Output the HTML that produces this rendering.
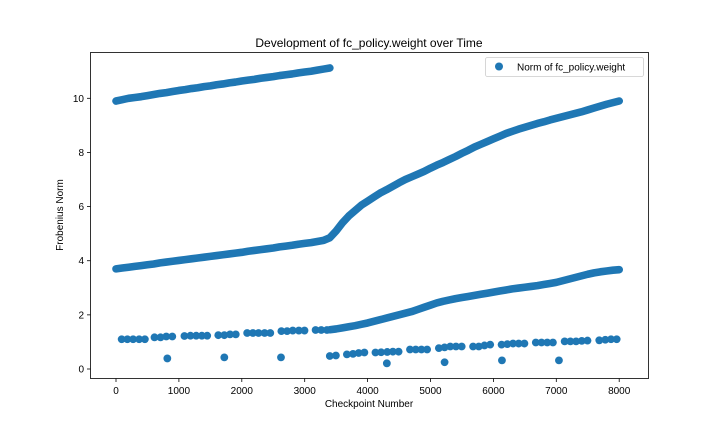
<!DOCTYPE html>
<html><head><meta charset="utf-8"><style>
body{margin:0;background:#fff;}
svg text{font-family:"Liberation Sans","DejaVu Sans",sans-serif;fill:#000;}
</style></head><body>
<svg id="chart" width="720" height="432" xmlns="http://www.w3.org/2000/svg">
<rect width="720" height="432" fill="#fff"/>
<text x="369" y="47" font-size="12" text-anchor="middle">Development of fc_policy.weight over Time</text>
<text x="369" y="407" font-size="10" text-anchor="middle">Checkpoint Number</text>
<text x="0" y="0" font-size="10" text-anchor="middle" transform="translate(63,215) rotate(-90)">Frobenius Norm</text>
<g id="ticks"></g>
<g id="marks"></g>
<rect x="90.5" y="52.5" width="558" height="326" fill="none" stroke="#000" stroke-width="0.8"/>
<g>
<rect x="485.5" y="57.5" width="158" height="19" rx="2" fill="#fff" stroke="#ccc" stroke-width="0.8"/>
<circle cx="499" cy="66.5" r="4" fill="#1f77b4"/>
<text x="517" y="70.5" font-size="10">Norm of fc_policy.weight</text>
</g>
</svg>
<script>
const xTicks=[0,1000,2000,3000,4000,5000,6000,7000,8000];
const yTicks=[0,2,4,6,8,10];
const topVals=[9.9,9.95,10.0,10.03,10.06,10.1,10.14,10.18,10.21,10.25,10.29,10.32,10.36,10.39,10.43,10.46,10.5,10.53,10.57,10.6,10.64,10.67,10.7,10.74,10.77,10.8,10.84,10.87,10.9,10.94,10.97,11.0,11.04,11.08,11.12];
const midVals=[3.70,3.73,3.76,3.79,3.82,3.85,3.88,3.92,3.95,3.98,4.01,4.04,4.07,4.10,4.13,4.16,4.19,4.22,4.25,4.28,4.31,4.35,4.38,4.41,4.44,4.47,4.51,4.54,4.57,4.61,4.64,4.67,4.71,4.75,4.85,5.1,5.4,5.65,5.85,6.05,6.2,6.35,6.5,6.62,6.75,6.88,7.0,7.1,7.2,7.3,7.42,7.53,7.63,7.74,7.85,7.97,8.08,8.2,8.3,8.4,8.5,8.6,8.7,8.78,8.86,8.93,9.0,9.07,9.13,9.2,9.26,9.32,9.38,9.44,9.5,9.57,9.64,9.71,9.78,9.84,9.9];
const lowVals=[1.45,1.48,1.52,1.56,1.60,1.65,1.70,1.76,1.82,1.88,1.94,2.0,2.06,2.12,2.2,2.28,2.36,2.44,2.5,2.55,2.6,2.64,2.68,2.72,2.76,2.8,2.84,2.88,2.92,2.96,2.99,3.02,3.05,3.08,3.12,3.16,3.2,3.26,3.32,3.38,3.44,3.5,3.55,3.59,3.62,3.65,3.67];
const sparseX=[90,181,272,368,459,612,708,799,895,1088,1184,1275,1365,1450,1626,1722,1813,1904,2085,2176,2266,2363,2453,2629,2720,2810,2907,2997,3173,3263,3354,
3399,3496,3671,3768,3858,3949,4125,4215,4312,4402,4493,4674,4765,4856,4946,5133,5224,5314,5405,5496,5677,5768,5858,5949,6130,6221,6312,6402,6493,6674,6765,6856,6946,7133,7224,7314,7405,7496,7683,7779,7870,7960,
816,1722,2623,4306,5224,6136,7042];
const sparseY=[1.10,1.10,1.10,1.10,1.10,1.17,1.17,1.20,1.20,1.22,1.23,1.23,1.23,1.23,1.25,1.25,1.28,1.28,1.33,1.33,1.33,1.33,1.33,1.40,1.40,1.42,1.42,1.42,1.44,1.44,1.44,
0.48,0.50,0.54,0.56,0.59,0.61,0.61,0.62,0.63,0.64,0.64,0.72,0.72,0.72,0.72,0.77,0.80,0.83,0.83,0.83,0.83,0.83,0.87,0.90,0.90,0.92,0.94,0.94,0.94,0.98,0.98,0.98,0.98,1.02,1.02,1.02,1.04,1.05,1.06,1.08,1.10,1.10,
0.39,0.43,0.43,0.21,0.25,0.32,0.32];
const NS='http://www.w3.org/2000/svg';
const xs=v=>116+v*0.0629;
const ys=v=>369-v*27.07;
const ticks=document.getElementById('ticks');
const marks=document.getElementById('marks');
function mk(tag,attrs,parent){const e=document.createElementNS(NS,tag);for(const k in attrs)e.setAttribute(k,attrs[k]);parent.appendChild(e);return e;}
xTicks.forEach(t=>{
  const l=mk('line',{x1:xs(t),x2:xs(t),y1:378.5,y2:382,stroke:'#000','stroke-width':0.8},ticks);
  
  
  const tx=mk('text',{x:xs(t),y:394,'font-size':10,'text-anchor':'middle'},ticks);
  tx.textContent=t;
  
  
});
yTicks.forEach(t=>{
  const l=mk('line',{x1:87,x2:90.5,y1:ys(t),y2:ys(t),stroke:'#000','stroke-width':0.8},ticks);
  
  
  const tx=mk('text',{x:84,y:ys(t)+3.5,'font-size':10,'text-anchor':'end'},ticks);
  tx.textContent=t;
  
  
});
function band(vals,x0){
  const pts=vals.map((v,i)=>xs(x0+i*100)+','+ys(v)).join(' ');
  const p=mk('polyline',{points:pts,fill:'none',stroke:'#1f77b4','stroke-width':7.6,'stroke-linecap':'round','stroke-linejoin':'round'},marks);
  
  
}
function pt(x,y){
  const c=mk('circle',{cx:xs(x),cy:ys(y),r:3.9,fill:'#1f77b4'},marks);
  
  
}
band(topVals,0);
band(midVals,0);
band(lowVals,3400);
sparseX.forEach((x,i)=>pt(x,sparseY[i]));
</script>
</body></html>
